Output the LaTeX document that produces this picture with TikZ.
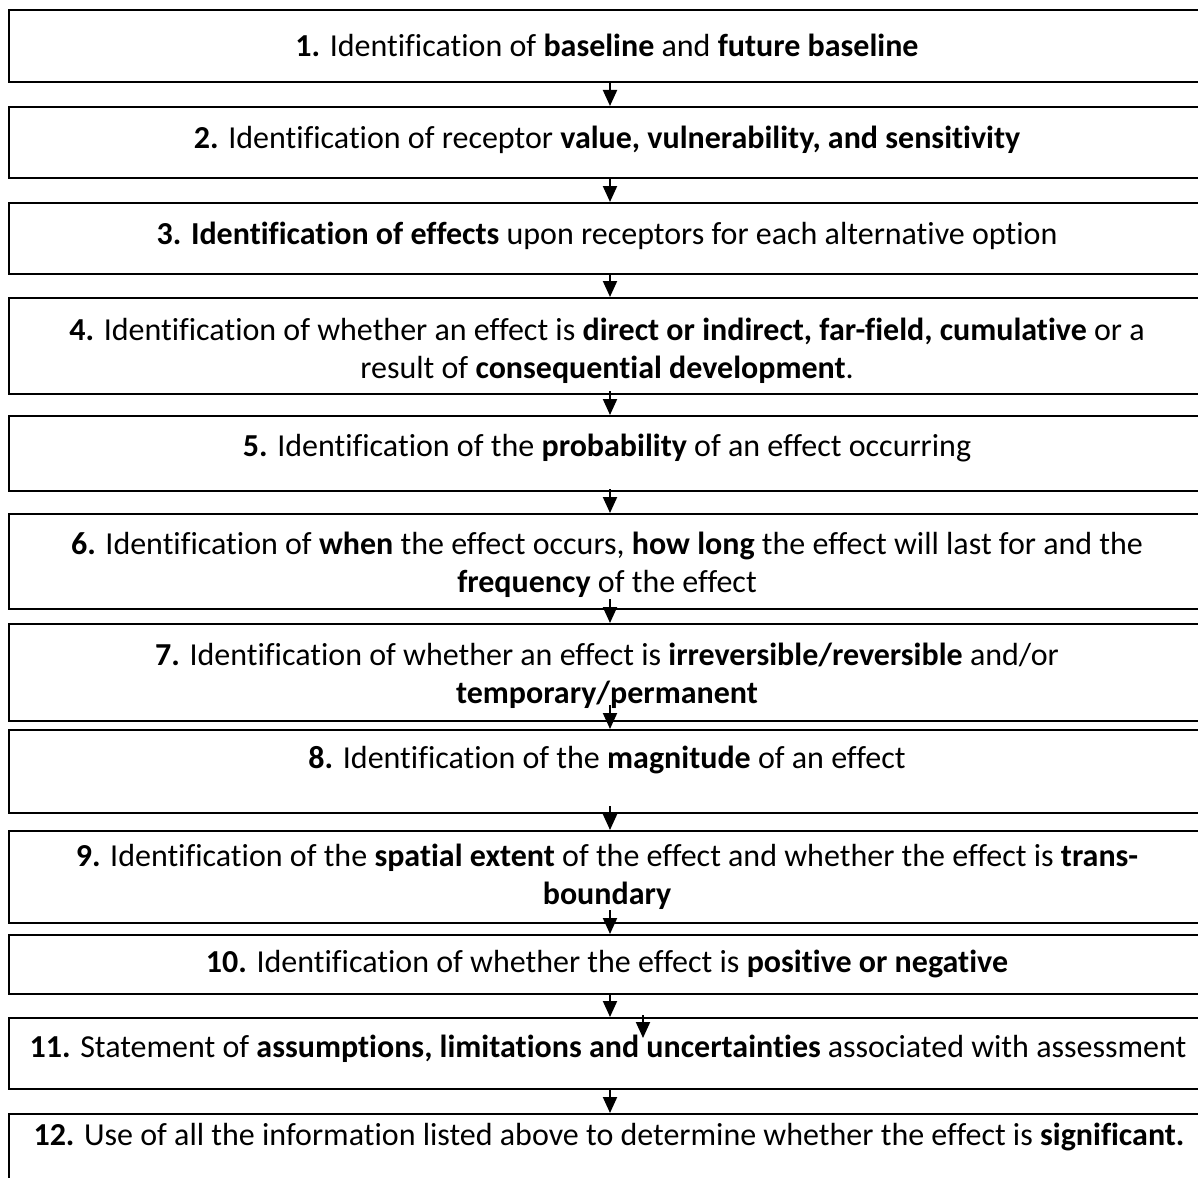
\documentclass[tikz,border=0pt]{standalone}
\usepackage{fontspec}
\setmainfont{Carlito}[Ligatures={NoCommon}]
\usetikzlibrary{arrows.meta}
\begin{document}
\begin{tikzpicture}[x=1pt,y=-1pt,
  box/.style={draw=black, line width=2pt, minimum width=1196pt, anchor=north west, inner sep=0pt},
  txt/.style={align=center, inner sep=0pt, font=\fontsize{32}{38}\selectfont},
  arr/.style={line width=2pt, -{Triangle[width=14pt,length=16pt]}}]
\useasboundingbox (0,0) rectangle (1198,1177);
\fill[white] (0,0) rectangle (1198,1177);
% boxes
\node[box, minimum height=72pt] (b1) at (8,9) {};
\node[box, minimum height=71pt] (b2) at (8,106) {};
\node[box, minimum height=71pt] (b3) at (8,202) {};
\node[box, minimum height=96pt] (b4) at (8,297) {};
\node[box, minimum height=75pt] (b5) at (8,415) {};
\node[box, minimum height=95pt] (b6) at (8,513) {};
\node[box, minimum height=97pt] (b7) at (8,623) {};
\node[box, minimum height=83pt] (b8) at (8,729) {};
\node[box, minimum height=92pt] (b9) at (8,830) {};
\node[box, minimum height=59pt] (b10) at (8,934) {};
\node[box, minimum height=71pt] (b11) at (8,1017) {};
\node[box, minimum height=80pt] (b12) at (8,1113) {};
% texts
\node[txt] (t1) at (607,45) {\textbf{1.} Identification of \textbf{baseline} and \textbf{future baseline}};
\node[txt] (t2) at (607,140) {\textbf{2.} Identification of receptor \textbf{value, vulnerability, and sensitivity}};
\node[txt] (t3) at (607,236) {\textbf{3. Identification of effects} upon receptors for each alternative option};
\node[txt] (t4) at (607,351) {\textbf{4.} Identification of whether an effect is \textbf{direct or indirect, far-field, cumulative} or a\\ result of \textbf{consequential development}.};
\node[txt] (t5) at (607,448) {\textbf{5.} Identification of the \textbf{probability} of an effect occurring};
\node[txt] (t6) at (607,565) {\textbf{6.} Identification of \textbf{when} the effect occurs, \textbf{how long} the effect will last for and the\\ \textbf{frequency} of the effect};
\node[txt] (t7) at (607,676) {\textbf{7.} Identification of whether an effect is \textbf{irreversible/reversible} and/or\\ \textbf{temporary/permanent}};
\node[txt] (t8) at (607,760) {\textbf{8.} Identification of the \textbf{magnitude} of an effect};
\node[txt] (t9) at (607,877) {\textbf{9.} Identification of the \textbf{spatial extent} of the effect and whether the effect is \textbf{trans-}\\ \textbf{boundary}};
\node[txt] (t10) at (607,964) {\textbf{10.} Identification of whether the effect is \textbf{positive or negative}};
\node[txt] (t11) at (608,1049) {\textbf{11.} Statement of \textbf{assumptions, limitations and uncertainties} associated with assessment};
\node[txt] (t12) at (609,1137) {\textbf{12.} Use of all the information listed above to determine whether the effect is \textbf{significant.}};
% arrows
\foreach \n in {2,3,4,5,6,7,8,9,10,11,12}{
  \draw[arr] ([xshift=3pt,yshift=24pt]b\n.north) -- ([xshift=3pt]b\n.north);
}
\draw[arr] ([xshift=36pt,yshift=2pt]b11.north) -- ([xshift=36pt,yshift=-21pt]b11.north);
\end{tikzpicture}
\end{document}
